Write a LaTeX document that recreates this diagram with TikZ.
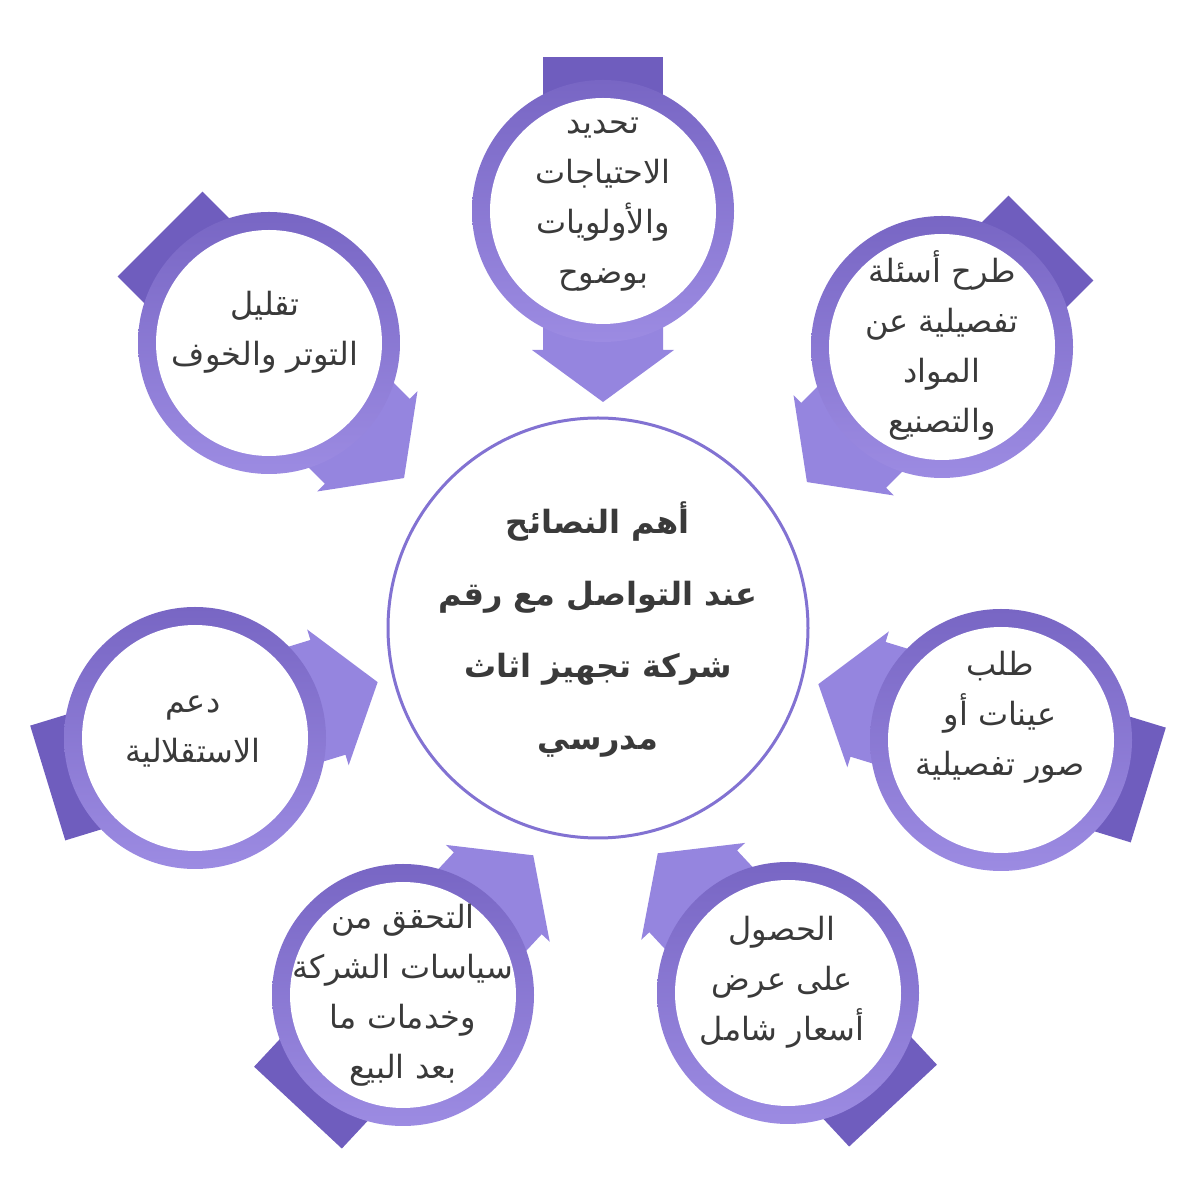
\documentclass[tikz,border=0pt]{standalone}
\usepackage{xcolor}
\usepackage{fontspec}
\usepackage{tikz}
\usetikzlibrary{shapes,positioning,calc}
\TeXXeTstate=1
\newfontfamily\arabicfont[Script=Arabic]{DejaVu Sans}
\newcommand{\rtl}[1]{\beginR#1\endR}

\definecolor{ringdark}{HTML}{7866C4}
\definecolor{ringlight}{HTML}{9C8BE2}
\definecolor{tailc}{HTML}{6F5DBE}
\definecolor{headc}{HTML}{9585DF}
\definecolor{rimc}{HTML}{8272D2}
\definecolor{txtc}{HTML}{3A3A3A}

\tikzset{
  ring/.style={circle, inner sep=0pt, minimum size=262pt, top color=ringdark, bottom color=ringlight},
  hole/.style={circle, inner sep=0pt, minimum size=226pt, fill=white},
  tiptext/.style={align=center, text=txtc, font=\arabicfont\fontsize{32}{50}\selectfont},
  hub/.style={circle, inner sep=0pt, minimum size=420pt, draw=rimc, line width=3pt, fill=white},
  hubtext/.style={align=center, text=txtc, font=\arabicfont\bfseries\fontsize{32}{72}\selectfont}
}

\begin{document}
\begin{tikzpicture}[x=1pt, y=1pt]
\useasboundingbox (0,0) rectangle (1200,1200);

% Satellites: arrow behind, ring on top, text inside
\foreach \nm/\cx/\cy/\ang/\tx/\ty/\txt in {
  needs/603/989/270/603/995/{\rtl{تحديد}\\\rtl{الاحتياجات}\\\rtl{والأولويات}\\\rtl{بوضوح}},
  ask/942/853/225/942/855/{\rtl{طرح أسئلة}\\\rtl{تفصيلية عن}\\\rtl{المواد}\\\rtl{والتصنيع}},
  samples/1001/460/163/1000/483/{\rtl{طلب}\\\rtl{عينات أو}\\\rtl{صور تفصيلية}},
  quote/788/207/133/782/218/{\rtl{الحصول}\\\rtl{على عرض}\\\rtl{أسعار شامل}},
  policy/403/205/47/403/205/{\rtl{التحقق من}\\\rtl{سياسات الشركة}\\\rtl{وخدمات ما}\\\rtl{بعد البيع}},
  support/195/462/17/193/468/{\rtl{دعم}\\\rtl{الاستقلالية}},
  calm/269/857/315/265/868/{\rtl{تقليل}\\\rtl{التوتر والخوف}}}
{
  \begin{scope}[shift={(\cx,\cy)}, rotate=\ang]
    \fill[tailc] (-154,-60) rectangle (0,60);
    \fill[headc] (0,-60) -- (139,-60) -- (139,-71) -- (191,0)
      -- (139,71) -- (139,60) -- (0,60) -- cycle;
  \end{scope}
  \node[ring] (ring-\nm) at (\cx,\cy) {};
  \node[hole] (hole-\nm) at (ring-\nm.center) {};
  \node[tiptext] (text-\nm) at (\tx,\ty) {\txt};
}

% Central circle
\node[hub] (hubring) at (598,572) {};
\node[hubtext] (hublabel) at (598,570)
  {\rtl{أهم النصائح}\\\rtl{عند التواصل مع رقم}\\\rtl{شركة تجهيز اثاث}\\\rtl{مدرسي}};
\end{tikzpicture}
\end{document}
